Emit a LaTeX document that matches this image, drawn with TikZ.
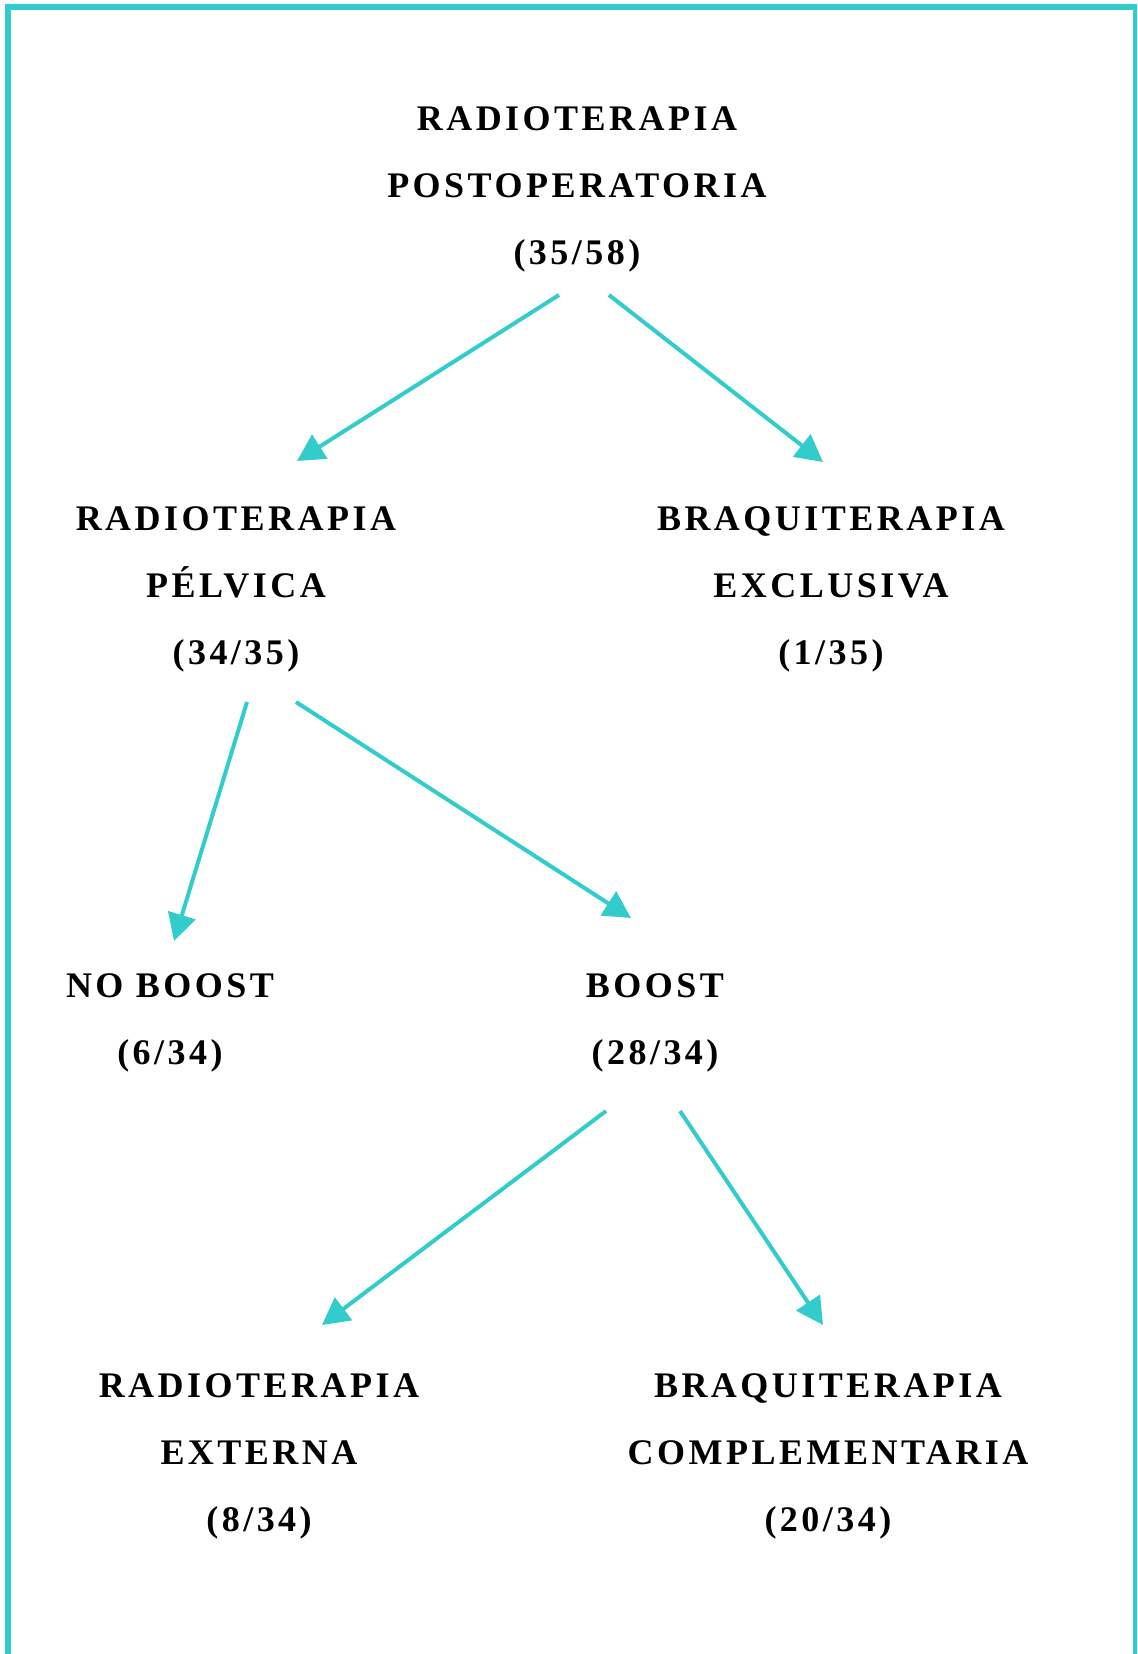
\documentclass[tikz,border=0pt]{standalone}
\usepackage{fontspec}
\setmainfont{Liberation Serif}
\newfontfamily\treefont[LetterSpace=9.7]{Liberation Serif}
\usepackage{tikz}
\usetikzlibrary{arrows.meta, calc}
\definecolor{treeteal}{HTML}{33CCCC}

\begin{document}
\begin{tikzpicture}[
    x=0.5pt, y=-0.5pt,
    >={Triangle[length=13.5pt, width=14pt]},
    entry/.style={
        align=center, inner sep=0pt,
        font=\treefont\bfseries\fontsize{18}{33.5}\selectfont
    },
    arrow/.style={->, line width=2pt, color=treeteal},
    frame/.style={draw=treeteal, line width=3pt},
]

% ── Page and frame ───────────────────────────────────────────────────────
\useasboundingbox (0,0) rectangle (1137,1654);
\clip (0,0) rectangle (1137,1654);
\draw[frame] (8,6.5) rectangle (1135.5,1720);

% ── Level 0 ──────────────────────────────────────────────────────────────
\node[entry] (postop) at (577,189) {RADIOTERAPIA\\POSTOPERATORIA\\(35/58)};

% ── Level 1 ──────────────────────────────────────────────────────────────
\node[entry] (pelvica) at (236,589) {RADIOTERAPIA\\PÉLVICA\\(34/35)};
\node[entry] (exclusiva) at (831,589) {BRAQUITERAPIA\\EXCLUSIVA\\(1/35)};

% ── Level 2 ──────────────────────────────────────────────────────────────
\node[entry] (noboost) at (170,1023) {NO BOOST\\(6/34)};
\node[entry] (boost) at (655,1023) {BOOST\\(28/34)};

% ── Level 3 ──────────────────────────────────────────────────────────────
\node[entry] (externa) at (259,1456) {RADIOTERAPIA\\EXTERNA\\(8/34)};
\node[entry] (complem) at (828,1456) {BRAQUITERAPIA\\COMPLEMENTARIA\\(20/34)};

% ── Arrows ───────────────────────────────────────────────────────────────
\draw[arrow] ($(postop)+(-18,106)$) -- ($(pelvica)+(61,-128)$);
\draw[arrow] ($(postop)+(32,106)$) -- ($(exclusiva)+(-8,-127)$);
\draw[arrow] ($(pelvica)+(11,113)$) -- ($(noboost)+(4,-82)$);
\draw[arrow] ($(pelvica)+(60,113)$) -- ($(boost)+(-24,-105)$);
\draw[arrow] ($(boost)+(-49,88)$) -- ($(externa)+(63,-131)$);
\draw[arrow] ($(boost)+(25,88)$) -- ($(complem)+(-5,-131)$);

\end{tikzpicture}
\end{document}
